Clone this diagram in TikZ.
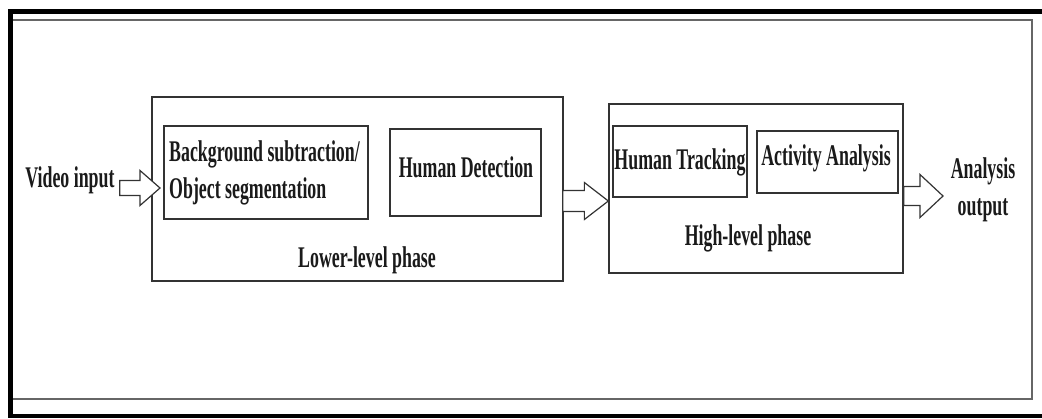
\documentclass[tikz,border=0pt]{standalone}
\usepackage{fontspec}
\newfontfamily\tnr{Liberation Serif}[FakeStretch=0.595]
\usetikzlibrary{calc}
\definecolor{ink}{HTML}{1A1A1A}
\definecolor{boxline}{HTML}{333333}
\tikzset{
  lbl/.style={inner sep=0pt, text=ink, font=\tnr\bfseries\fontsize{30}{37}\selectfont},
  box/.style={draw=boxline, line width=1.3pt, inner sep=0pt},
  barrow/.style={draw=boxline, line width=1.2pt, fill=white, line join=miter},
}
\newcommand\hollowarrow[5]{%
  \draw[barrow] let \p1=(#1), \p2=(#2) in
    (\x1,\y1+#3) -- (\x2-#5,\y1+#3) -- (\x2-#5,\y1+#4) -- (\x2,\y1)
    -- (\x2-#5,\y1-#4) -- (\x2-#5,\y1-#3) -- (\x1,\y1-#3) -- cycle;}
\begin{document}
\begin{tikzpicture}[x=1pt,y=-1pt]
\useasboundingbox (0,0) rectangle (1042,418);
% frame
\fill[white] (0,0) rectangle (1042,418);
\draw[black, line width=5pt] (1042,11) -- (10,11) -- (10,418);
\draw[black, line width=4pt] (10,415.5) -- (1042,415.5);
\draw[gray!80!black, line width=2pt] (13,20) -- (1032,20) -- (1032,398.5) -- (13,398.5);
% boxes
\node[box, minimum width=411pt, minimum height=184pt] (lower) at (357.5,189) {};
\node[box, minimum width=204pt, minimum height=93pt] (bg) at (266,172.5) {};
\node[box, minimum width=151pt, minimum height=87pt] (hd) at (465.5,172.5) {};
\node[box, minimum width=294pt, minimum height=169pt] (high) at (756,188.5) {};
\node[box, minimum width=134pt, minimum height=71pt] (ht) at (680,161.5) {};
\node[box, minimum width=141pt, minimum height=62pt] (aa) at (827.5,162) {};
% texts
\node[lbl, anchor=base] (vid) at (70,187) {Video input};
\node[lbl, anchor=base west, align=left] (bgt) at (169,198.5) {Background subtraction/\\Object segmentation};
\node[lbl, anchor=base] (hdt) at (466,177) {Human Detection};
\node[lbl, anchor=base] (lowt) at (367,267) {Lower-level phase};
\node[lbl, anchor=base] (htt) at (680,169) {Human Tracking};
\node[lbl, anchor=base] (aat) at (826,165) {Activity Analysis};
\node[lbl, anchor=base] (hight) at (748,245) {High-level phase};
\node[lbl, anchor=base, align=center] (outt) at (983,215) {Analysis\\output};
% arrows
\coordinate (a1s) at ($(vid.east)+(5,0)$);
\coordinate (a1t) at (160,188);
\coordinate (a2s) at ($(lower.east)+(-1,12)$);
\coordinate (a2t) at (high.west |- a2s);
\coordinate (a3s) at ($(high.east)+(0,7.5)$);
\coordinate (a3t) at (943,196);
\hollowarrow{a1s |- a1t}{a1t}{7.5pt}{17.5pt}{20pt}
\hollowarrow{a2s}{a2t}{10.5pt}{18.5pt}{24pt}
\hollowarrow{a3s}{a3t}{9.5pt}{21.5pt}{23pt}
\end{tikzpicture}
\end{document}
